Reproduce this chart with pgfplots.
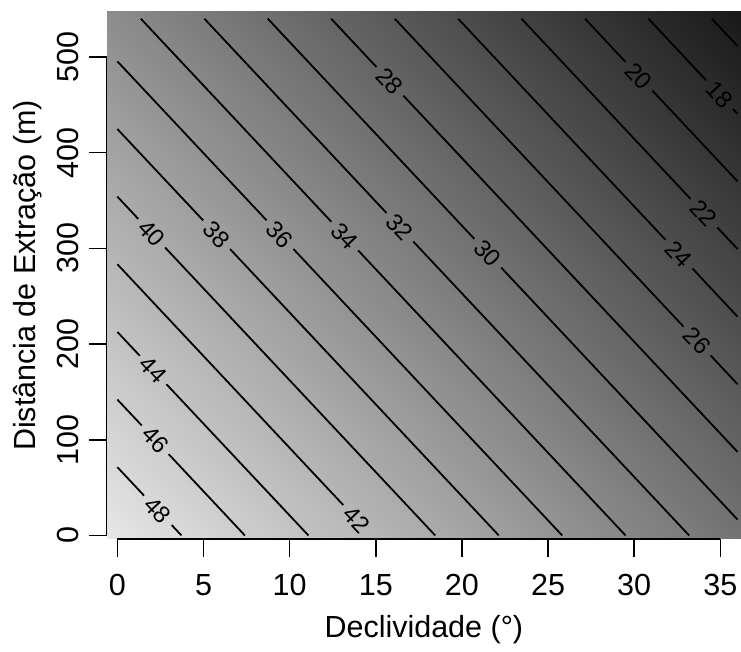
\documentclass[border=0pt]{standalone}
\usepackage{pgfplots}
\pgfplotsset{compat=1.18}
\usepackage{fontspec}
\setmainfont{Liberation Sans}

\tikzset{
  cline/.style={black, line width=1.8pt},
  clab/.style={font=\fontsize{24}{26}\selectfont, sloped, midway, inner sep=0pt},
}

\pgfplotstableread{
x y z
-0.62 -9.3 50.62
12 -9.3 43.77
24 -9.3 37.25
36.62 -9.3 30.40

-0.62 180 45.26
12 180 38.41
24 180 31.89
36.62 180 25.04

-0.62 360 40.17
12 360 33.32
24 360 26.80
36.62 360 19.95

-0.62 549.3 34.81
12 549.3 27.96
24 549.3 21.44
36.62 549.3 14.59
}\surface

\begin{document}
\begin{tikzpicture}
\begin{axis}[
  scale only axis,
  width=634.3pt, height=527pt,
  xmin=-0.62, xmax=36.2,
  ymin=-3.7, ymax=547,
  axis line style={draw=none},
  xtick={0,5,...,35},
  ytick={0,100,...,500},
  xtick pos=bottom, ytick pos=left,
  tick align=outside,
  major tick length=18pt,
  tick style={black, line width=1.6pt},
  /pgf/number format/assume math mode=true,
  tick label style={font=\fontsize{30.5}{36}\selectfont},
  label style={font=\fontsize{30.5}{36}\selectfont},
  xticklabel style={anchor=base, yshift=-39pt},
  yticklabel style={rotate=90, anchor=base, yshift=10pt},
  xlabel={Declividade (°)},
  ylabel={Distância de Extração (m)},
  xlabel style={at={(axis description cs:0.5,0)}, anchor=base, yshift=-98.5pt},
  ylabel style={at={(axis description cs:0,0.5)}, anchor=base, yshift=70.7pt},
  colormap={rgray}{gray(0cm)=(0.09); gray(1cm)=(0.91)},
  point meta min=14.59, point meta max=50.62,
]
\addplot[surf, shader=interp, mesh/cols=4, point meta=explicit] table[x=x, y=y, meta=z] {\surface};

% 48
\addplot[cline] coordinates {(0,71.4) (1.55,41.6)};
\addplot[draw=none] coordinates {(1.55,41.6) (3.15,10.9)} node[clab] {48};
\addplot[cline] coordinates {(3.15,10.9) (3.72,0)};
% 46
\addplot[cline] coordinates {(0,142.0) (1.42,114.8)};
\addplot[draw=none] coordinates {(1.42,114.8) (2.98,84.9)} node[clab] {46};
\addplot[cline] coordinates {(2.98,84.9) (7.40,0)};
% 44
\addplot[cline] coordinates {(0,212.7) (1.30,187.8)};
\addplot[draw=none] coordinates {(1.30,187.8) (2.85,158.0)} node[clab] {44};
\addplot[cline] coordinates {(2.85,158.0) (11.09,0)};
% 42
\addplot[cline] coordinates {(0,283.4) (13.11,31.8)};
\addplot[draw=none] coordinates {(13.11,31.8) (14.67,1.9)} node[clab] {42};
% 40
\addplot[cline] coordinates {(0,354.1) (1.21,330.8)};
\addplot[draw=none] coordinates {(1.21,330.8) (2.77,300.9)} node[clab] {40};
\addplot[cline] coordinates {(2.77,300.9) (18.45,0)};
% 38
\addplot[cline] coordinates {(0,424.7) (4.98,329.2)};
\addplot[draw=none] coordinates {(4.98,329.2) (6.54,299.3)} node[clab] {38};
\addplot[cline] coordinates {(6.54,299.3) (22.14,0)};
% 36
\addplot[cline] coordinates {(0,495.4) (8.66,329.3)};
\addplot[draw=none] coordinates {(8.66,329.3) (10.22,299.3)} node[clab] {36};
\addplot[cline] coordinates {(10.22,299.3) (25.82,0)};
% 34
\addplot[cline] coordinates {(1.36,540) (12.42,327.8)};
\addplot[draw=none] coordinates {(12.42,327.8) (13.98,297.8)} node[clab] {34};
\addplot[cline] coordinates {(13.98,297.8) (29.50,0)};
% 32
\addplot[cline] coordinates {(5.05,540) (15.62,337.0)};
\addplot[draw=none] coordinates {(15.62,337.0) (17.18,307.1)} node[clab] {32};
\addplot[cline] coordinates {(17.18,307.1) (33.19,0)};
% 30
\addplot[cline] coordinates {(8.73,540) (20.72,309.9)};
\addplot[draw=none] coordinates {(20.72,309.9) (22.28,279.9)} node[clab] {30};
\addplot[cline] coordinates {(22.28,279.9) (36,16.6)};
% 28
\addplot[cline] coordinates {(12.41,540) (15.04,489.5)};
\addplot[draw=none] coordinates {(15.04,489.5) (16.60,459.6)} node[clab] {28};
\addplot[cline] coordinates {(16.60,459.6) (36,87.3)};
% 26
\addplot[cline] coordinates {(16.10,540) (32.87,218.1)};
\addplot[draw=none] coordinates {(32.87,218.1) (34.43,188.2)} node[clab] {26};
\addplot[cline] coordinates {(34.43,188.2) (36,158.0)};
% 24
\addplot[cline] coordinates {(19.78,540) (31.82,308.9)};
\addplot[draw=none] coordinates {(31.82,308.9) (33.38,279.0)} node[clab] {24};
\addplot[cline] coordinates {(33.38,279.0) (36,228.6)};
% 22
\addplot[cline] coordinates {(23.46,540) (33.27,351.7)};
\addplot[draw=none] coordinates {(33.27,351.7) (34.83,321.8)} node[clab] {22};
\addplot[cline] coordinates {(34.83,321.8) (36,299.3)};
% 20
\addplot[cline] coordinates {(27.15,540) (29.49,494.9)};
\addplot[draw=none] coordinates {(29.49,494.9) (31.05,465.0)} node[clab] {20};
\addplot[cline] coordinates {(31.05,465.0) (36,370.0)};
% 18
\addplot[cline] coordinates {(30.83,540) (34.18,475.6)};
\addplot[draw=none] coordinates {(34.18,475.6) (35.74,445.7)} node[clab] {18};
\addplot[cline] coordinates {(35.74,445.7) (36,440.6)};
% 16
\addplot[cline] coordinates {(34.51,540) (36,511.3)};
\end{axis}
% R style axis lines, first to last tick
\draw[line width=1.6pt] (current axis.south west) ++(10.68pt,0) -- ++(603pt,0);
\draw[line width=1.6pt] (current axis.south west) ++(0,3.54pt) -- ++(0,478.5pt);
\pgfresetboundingbox
\path[use as bounding box] ([xshift=-106.7pt,yshift=-113pt]current axis.south west) rectangle ([yshift=12pt]current axis.north east);
\end{tikzpicture}
\end{document}
